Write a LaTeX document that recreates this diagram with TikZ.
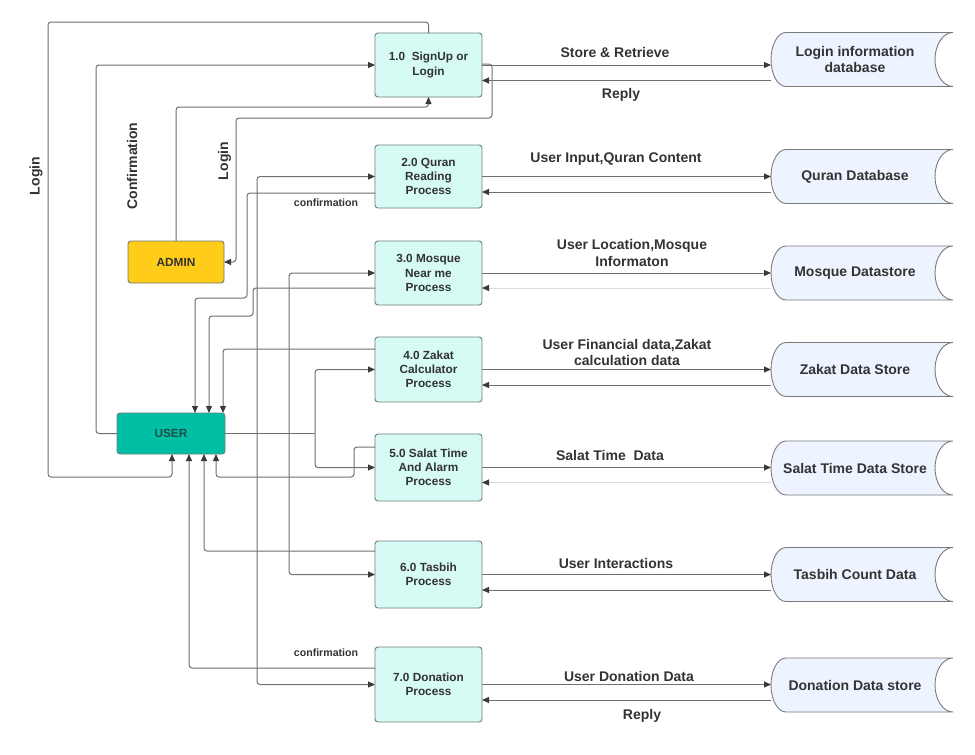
\documentclass[tikz,border=0pt]{standalone}
\usepackage{fontspec}
\setmainfont{Liberation Sans}
\usetikzlibrary{arrows.meta,calc}

\definecolor{linecol}{HTML}{707070}
\definecolor{faintcol}{HTML}{DADADA}
\definecolor{tipcol}{HTML}{3A3A3A}
\definecolor{txtcol}{HTML}{333333}
\definecolor{procfill}{HTML}{D6FAF4}
\definecolor{procedge}{HTML}{6E7F7C}
\definecolor{userfill}{HTML}{00BFA5}
\definecolor{usertxt}{HTML}{204D47}
\definecolor{adminfill}{HTML}{FFCD19}
\definecolor{storefill}{HTML}{EDF4FF}
\definecolor{storeedge}{HTML}{7A7A7A}

\begin{document}
\begin{tikzpicture}[x=1pt,y=-1pt,
  every node/.style={text=txtcol},
  proc/.style={draw=procedge,fill=procfill,line width=0.9pt,rounded corners=3pt,
    minimum width=107pt,align=center,inner sep=0pt,outer sep=0pt,
    font=\fontsize{11.8}{14.2}\selectfont\bfseries},
  actor/.style={draw=procedge,line width=0.9pt,rounded corners=3pt,
    minimum height=42pt,inner sep=0pt,outer sep=0pt,
    font=\fontsize{11.8}{14}\selectfont\bfseries},
  storebox/.style={minimum width=182pt,minimum height=54pt,inner sep=0pt,outer sep=0pt},
  storeline/.style={draw=storeedge,fill=storefill,line width=0.9pt},
  storetext/.style={align=center,font=\fontsize{14}{16.5}\selectfont\bfseries},
  lbl/.style={align=center,font=\fontsize{14}{16.5}\selectfont\bfseries},
  smalllbl/.style={font=\fontsize{10.6}{13}\selectfont\bfseries},
  flow/.style={draw=linecol,line width=1pt,rounded corners=3pt,
    -{Triangle[length=7pt,width=6pt,color=tipcol]}},
  faintflow/.style={flow,draw=faintcol},
  plain/.style={draw=linecol,line width=1pt,rounded corners=3pt}
]
\useasboundingbox[fill=white] (0,0) rectangle (975,755);

% processes
\node[proc,minimum height=64pt] (p1) at (428.5,65)  {1.0~~SignUp or\\Login};
\node[proc,minimum height=63pt] (p2) at (428.5,176.5) {2.0 Quran\\Reading\\Process};
\node[proc,minimum height=64pt] (p3) at (428.5,273)  {3.0 Mosque\\Near me\\Process};
\node[proc,minimum height=65pt] (p4) at (428.5,369.5) {4.0 Zakat\\Calculator\\Process};
\node[proc,minimum height=67pt] (p5) at (428.5,467.5) {5.0 Salat Time\\And Alarm\\Process};
\node[proc,minimum height=67pt] (p6) at (428.5,574.5) {6.0 Tasbih\\Process};
\node[proc,minimum height=75pt] (p7) at (428.5,684.5) {7.0 Donation\\Process};

% external entities
\node[actor,fill=userfill,text=usertxt,minimum width=108pt,minimum height=41pt] (user) at (171,433.5) {USER};
\node[actor,fill=adminfill,minimum width=96pt] (admin) at (176,262) {ADMIN};

% data stores
\foreach \n/\yy/\txt in {1/59.5/{Login information\\database},2/176.5/{Quran Database},
    3/273/{Mosque Datastore},4/369.5/{Zakat Data Store},5/468/{Salat Time Data Store},
    6/574.5/{Tasbih Count Data},7/685/{Donation Data store}}{
  \node[storebox] (d\n) at (862,\yy) {};
  \draw[storeline] (d\n.north east) -- ([xshift=15pt]d\n.north west)
    arc[start angle=90,end angle=270,x radius=15pt,y radius=27pt]
    -- (d\n.south east)
    arc[start angle=270,end angle=90,x radius=18pt,y radius=27pt] -- cycle;
  \node[storetext] (t\n) at ([xshift=-7pt]d\n.center) {\txt};
}

% process <-> store flows
\foreach \n in {1,2,4,6,7}{
  \draw[flow] (p\n.east) -- (p\n.east -| d\n.west);
  \draw[flow] ([yshift=-15.5pt]p\n.east -| d\n.west) -- ([yshift=-15.5pt]p\n.east);
}
\foreach \n in {3,5}{
  \draw[flow] (p\n.east) -- (p\n.east -| d\n.west);
  \draw[faintflow] ([yshift=-15pt]p\n.east -| d\n.west) -- ([yshift=-15pt]p\n.east);
}

% login / admin loops
\draw[flow] (p1.north) |- (48,22) -- (48,477) -| ([xshift=1pt]user.south);
\draw[flow] (user.west) -| (96,65) -- (p1.west);
\draw[flow] (admin.north) -- (176,107) -| (p1.south);
\draw[flow] ([yshift=1pt]p1.east) -| (492,118) -| (236,262) -- (admin.east);

% user -> processes
\path (user.east) ++(32,0) coordinate (j1) ++(32,0) coordinate (j2) ++(26,0) coordinate (j3);
\draw[plain] (user.east) -- (j3);
\draw[flow] (j1) |- (p2.west);
\draw[flow] (j1) |- (p7.west);
\draw[flow] (j2) |- (p3.west);
\draw[flow] (j2) |- (p6.west);
\draw[flow] (j3) |- (p4.west);
\draw[flow] (j3) |- (p5.west);

% processes -> user
\draw[flow] ([yshift=-16.5pt]p2.west) -| (247,298) -| ([xshift=24pt]user.north);
\draw[flow] ([yshift=-15pt]p3.west) -| (253,316) -| ([xshift=38pt]user.north);
\draw[flow] ([yshift=20.5pt]p4.west) -| ([xshift=52pt]user.north);
\draw[flow] ([yshift=20.5pt]p5.west) -| (354,477) -| ([xshift=45pt]user.south);
\draw[flow] ([yshift=23.5pt]p6.west) -| ([xshift=33pt]user.south);
\draw[flow] ([yshift=16.5pt]p7.west) -| ([xshift=18pt]user.south);

% flow labels
\node[lbl] (l1) at (615,52) {Store \& Retrieve};
\node[lbl] (l2) at (621,95) {Reply};
\node[lbl] (l3) at (616,159) {User Input,Quran Content};
\node[lbl] (l4) at (632,253) {User Location,Mosque\\Informaton};
\node[lbl] (l5) at (627,352.5) {User Financial data,Zakat\\calculation data};
\node[lbl] (l6) at (610,455) {Salat Time~~Data};
\node[lbl] (l7) at (616,563) {User Interactions};
\node[lbl] (l8) at (629,676) {User Donation Data};
\node[lbl] (l9) at (642,716) {Reply};
\node[smalllbl] (c1) at (326,203) {confirmation};
\node[smalllbl] (c2) at (326,653) {confirmation};
\node[lbl,rotate=90] (v1) at (36,176) {Login};
\node[lbl,rotate=90] (v2) at (132,166) {Confirmation};
\node[lbl,rotate=90] (v3) at (224.5,161) {Login};
\end{tikzpicture}
\end{document}
